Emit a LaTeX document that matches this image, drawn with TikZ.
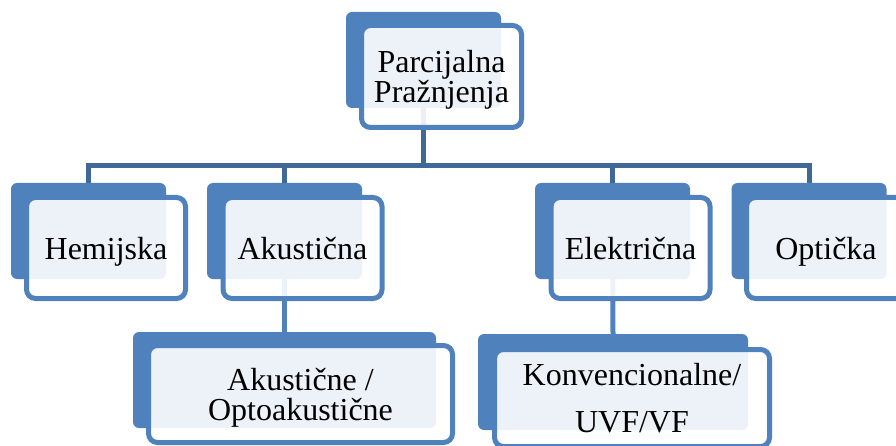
\documentclass[tikz,border=0pt]{standalone}
\usepackage{fontspec}
\setmainfont{Liberation Serif}
\usetikzlibrary{backgrounds}
\definecolor{boxblue}{HTML}{4F81BD}
\definecolor{linkblue}{HTML}{3F6899}
\tikzset{
  backbox/.style={fill=boxblue, rounded corners=6pt, inner sep=0pt},
  frontbox/.style={draw=boxblue, line width=5pt, fill=white, fill opacity=0.9,
    text opacity=1, rounded corners=9pt, inner sep=0pt, align=center,
    text depth=0pt, font=\fontsize{32}{30}\selectfont},
  trunk/.style={draw=linkblue, line width=5pt},
  branch/.style={draw=boxblue, line width=5pt}
}
\begin{document}
\begin{tikzpicture}[x=1pt,y=-1pt]
  \useasboundingbox (0,0) rectangle (896,446);

  % top box
  \node[backbox, minimum width=155pt, minimum height=96pt] (pp-back) at (423.5,60) {};
  \node[frontbox, minimum width=160pt, minimum height=102pt] (pp) at (441.5,76.5) {Parcijalna\\Pražnjenja};

  % second row
  \node[backbox, minimum width=155pt, minimum height=96pt] (hem-back) at (88.5,231) {};
  \node[frontbox, minimum width=159pt, minimum height=101pt] (hem) at (106,248) {Hemijska};

  \node[backbox, minimum width=155pt, minimum height=96pt] (aku-back) at (284.5,231) {};
  \node[frontbox, minimum width=159pt, minimum height=101pt] (aku) at (302.5,248) {Akustična};

  \node[backbox, minimum width=155pt, minimum height=96pt] (ele-back) at (612.5,231) {};
  \node[frontbox, minimum width=159pt, minimum height=101pt] (ele) at (630.5,248) {Električna};

  \node[backbox, minimum width=155pt, minimum height=96pt] (opt-back) at (809,231) {};
  \node[frontbox, minimum width=159pt, minimum height=101pt] (opt) at (826,248) {Optička};

  % third row
  \node[backbox, minimum width=303pt, minimum height=96pt] (akuo-back) at (284.5,380) {};
  \node[frontbox, minimum width=304pt, minimum height=97pt] (akuo) at (300.5,394) {Akustične /\\Optoakustične};

  \node[backbox, minimum width=270pt, minimum height=96pt] (konv-back) at (613,382) {};
  \node[frontbox, minimum width=275pt, minimum height=97pt] (konv) at (632,398) {Konvencionalne/\\[17pt]UVF/VF};

  % connectors
  \begin{scope}[on background layer]
    \coordinate (bar) at (0,165.5);
    \foreach \n in {hem,aku,ele,opt}
      \draw[trunk] (pp-back.center) -- (pp-back.center |- bar) -| (\n-back.north);
    \draw[branch] (aku-back.center) -- (akuo-back.north);
    \draw[branch] (ele-back.center) -- (konv-back.north);
  \end{scope}
\end{tikzpicture}
\end{document}
